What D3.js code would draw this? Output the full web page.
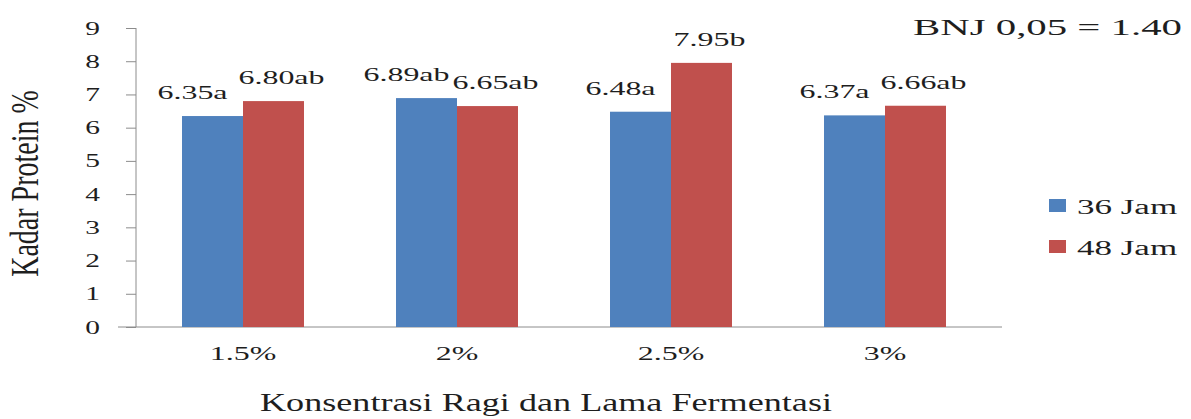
<!DOCTYPE html>
<html>
<head>
<meta charset="utf-8">
<script src="https://cdn.jsdelivr.net/npm/d3@7"></script>
<style>
  html, body { margin: 0; padding: 0; background: #fff; }
  svg { display: block; }
  text { font-family: "Liberation Serif", "Times New Roman", serif; fill: #1e1e1e; }
</style>
</head>
<body>
<svg id="chart" width="1191" height="419"></svg>
<script>
// Kadar protein (%) per konsentrasi ragi, 36 vs 48 jam fermentasi
const categories = ["1.5%", "2%", "2.5%", "3%"];
const series = ["36 Jam", "48 Jam"];
const values36 = [6.35, 6.89, 6.48, 6.37];
const values48 = [6.80, 6.65, 7.95, 6.66];
const notation36 = ["a", "ab", "a", "a"];
const notation48 = ["ab", "ab", "b", "ab"];
const yTicks = [0, 1, 2, 3, 4, 5, 6, 7, 8, 9];
const bnjLabel = "BNJ 0,05 = 1.40";
const xTitle = "Konsentrasi Ragi dan Lama Fermentasi";
const yTitle = "Kadar Protein %";

const colors = { "36 Jam": "#4f81bd", "48 Jam": "#c0504d" };
const axisColor = "#8c8c8c";
const STRETCH = 1.68; // wide lettering of the chart text

const svg = d3.select("#chart");

const plotLeft = 136, plotRight = 992, plotTop = 28, plotBottom = 327;

const x0 = d3.scaleBand().domain(categories).range([plotLeft, plotRight])
  .paddingInner(0.43).paddingOuter(0.215);
const x1 = d3.scaleBand().domain(series).range([0, x0.bandwidth()]);
const y = d3.scaleLinear().domain([0, 9]).range([plotBottom, plotTop]);

// widen a text element horizontally
function widen(sel, factor) {
  sel.each(function () {
    const w = this.getComputedTextLength();
    d3.select(this).attr("textLength", w * factor).attr("lengthAdjust", "spacingAndGlyphs");
  });
}

// Y axis
const yAxis = d3.axisLeft(y).tickValues(yTicks).tickSize(10).tickPadding(26).tickFormat(d3.format("d"));
const gy = svg.append("g").attr("transform", `translate(${plotLeft},0)`).call(yAxis);
gy.select(".domain").attr("stroke", axisColor).attr("d", `M0,${plotTop}V${plotBottom}`);
gy.selectAll(".tick line").attr("stroke", axisColor);
gy.selectAll(".tick text").attr("font-size", 19).attr("fill", "#1e1e1e")
  .attr("font-family", "Liberation Serif, serif").call(widen, 1.55);

// X axis
const xAxis = d3.axisBottom(x0).tickSize(0).tickPadding(20);
const gx = svg.append("g").attr("transform", `translate(0,${plotBottom})`).call(xAxis);
gx.select(".domain").attr("stroke", axisColor).attr("d", `M${plotLeft - 18},0H${plotRight + 10}`);
gx.selectAll(".tick text").attr("font-size", 19).attr("fill", "#1e1e1e")
  .attr("font-family", "Liberation Serif, serif").call(widen, STRETCH);

// Bars
const rows = categories.map((c, i) => ({
  cat: c,
  items: [
    { s: "36 Jam", v: values36[i], note: notation36[i] },
    { s: "48 Jam", v: values48[i], note: notation48[i] }
  ]
}));

const groups = svg.append("g").selectAll("g").data(rows).join("g")
  .attr("transform", d => `translate(${x0(d.cat)},0)`);

groups.selectAll("rect").data(d => d.items).join("rect")
  .attr("x", d => x1(d.s))
  .attr("y", d => y(d.v))
  .attr("width", x1.bandwidth())
  .attr("height", d => y(0) - y(d.v))
  .attr("fill", d => colors[d.s]);

// Value labels with notation letters
groups.selectAll("text.val").data(d => d.items).join("text")
  .attr("class", "val")
  .attr("x", d => x1(d.s) + x1.bandwidth() / 2 + (d.s === "36 Jam" ? -20 : 8))
  .attr("y", d => y(d.v) - 17)
  .attr("text-anchor", "middle")
  .attr("font-size", 19)
  .text(d => d.v.toFixed(2) + d.note)
  .call(widen, STRETCH);

// Axis titles
svg.append("text")
  .attr("x", (plotLeft + plotRight) / 2 - 18).attr("y", 411)
  .attr("text-anchor", "middle")
  .attr("font-size", 26)
  .attr("textLength", 572).attr("lengthAdjust", "spacingAndGlyphs")
  .text(xTitle);

svg.append("text")
  .attr("transform", `translate(38,${(plotTop + plotBottom) / 2 + 6}) scale(1.45,1) rotate(-90)`)
  .attr("text-anchor", "middle")
  .attr("font-size", 28)
  .text(yTitle);

// BNJ annotation
svg.append("text")
  .attr("x", 1182).attr("y", 35)
  .attr("text-anchor", "end")
  .attr("font-size", 24)
  .text(bnjLabel)
  .call(widen, 1.7);

// Legend
const legend = svg.append("g").selectAll("g").data(series).join("g")
  .attr("transform", (d, i) => `translate(1049,${199 + i * 41})`);
legend.append("rect").attr("width", 17).attr("height", 13).attr("fill", d => colors[d]);
legend.append("text").attr("x", 28).attr("y", 15).attr("font-size", 20)
  .text(d => d).call(widen, 1.75);
</script>
</body>
</html>
